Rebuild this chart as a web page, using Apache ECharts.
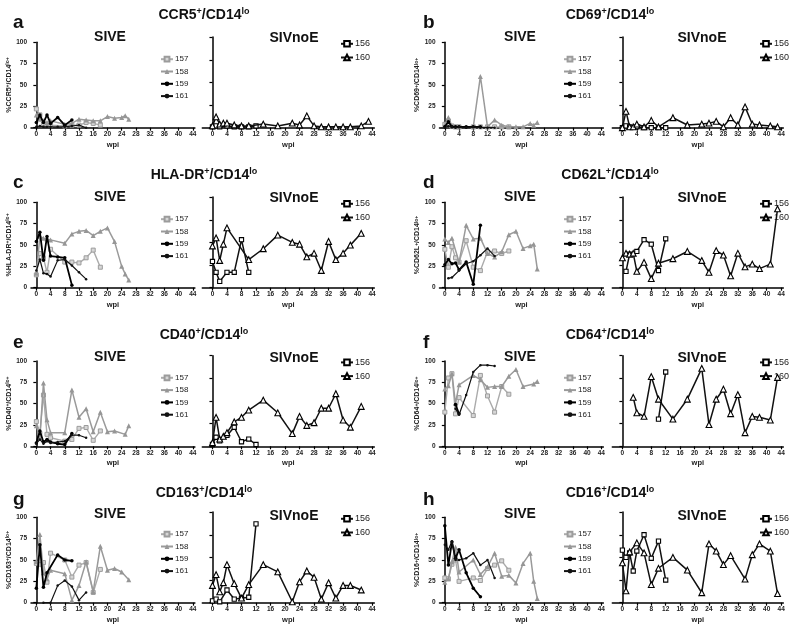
<!DOCTYPE html>
<html><head><meta charset="utf-8">
<script src="https://cdn.jsdelivr.net/npm/echarts@6/dist/echarts.min.js"></script>
<style>html,body{margin:0;padding:0;background:#fff}#c{width:800px;height:633px}</style>
</head><body><div id="c"></div>
<script>
const _ = null;
// weeks post infection
const SIVE_WEEKS = [0,1,2,3,4,6,8,10,12,14,16,18,20,22,24,25,26];
const NOE_WEEKS  = [0,1,2,3,4,6,8,10,12,14,18,22,24,26,28,30,32,34,36,38,41,43];
const X_TICKS = [0,4,8,12,16,20,24,28,32,36,40,44];
const Y_TICKS = [0,25,50,75,100];
const MARKERS = ['CCR5','CD69','HLA-DR','CD62L','CD40','CD64','CD163','CD16'];
const LETTERS = ['a','b','c','d','e','f','g','h'];
const SIVE_ANIMALS = ['157','158','159','161'];
const NOE_ANIMALS = ['156','160'];

// a: CCR5
const a157 = [22,15,5,4,3,_,2,3,3,6,5,3,_,_,_,_,_];
const a158 = [15,10,8,6,8,_,4,5,10,9,8,8,13,11,12,14,10];
const a159 = [6,15,6,15,5,12,3,9,_,_,_,_,_,_,_,_,_];
const a161 = [1,2,1,1,1,1,1,2,3,0,_,_,_,_,_,_,_];
const a156 = [1,2,1,_,2,1,1,1,2,_,_,_,_,_,_,_,_,_,_,_,_,_];
const a160 = [2,12,4,5,5,3,2,2,_,4,2,5,3,13,2,1,1,1,1,1,2,7];
// b: CD69
const b157 = [4,8,2,1,1,_,1,1,1,1,1,1,_,_,_,_,_];
const b158 = [3,12,2,1,1,_,1,60,1,9,3,1,1,1,5,3,6];
const b159 = [1,7,1,1,1,1,1,1,_,_,_,_,_,_,_,_,_];
const b161 = [0,2,1,0,1,0,1,0,0,0,_,_,_,_,_,_,_];
const b156 = [0,2,1,_,1,0,0,0,0,_,_,_,_,_,_,_,_,_,_,_,_,_];
const b160 = [0,18,1,1,4,1,8,1,_,11,3,4,5,7,1,11,3,23,4,3,2,1];
// c: HLA-DR
const c157 = [15,40,35,18,45,_,30,30,29,35,44,24,_,_,_,_,_];
const c158 = [17,60,58,57,56,_,52,63,66,67,61,66,70,54,25,16,9];
const c159 = [54,65,32,60,37,36,35,3,_,_,_,_,_,_,_,_,_];
const c161 = [20,33,17,16,13,32,33,26,18,10,_,_,_,_,_,_,_];
const c156 = [29,17,7,_,17,17,53,17,_,_,_,_,_,_,_,_,_,_,_,_,_,_];
const c160 = [46,55,30,48,66,_,_,31,_,43,58,50,48,34,38,19,51,31,38,47,60,_];
// d: CD62L
const d157 = [45,24,48,35,30,55,24,20,42,43,40,43,_,_,_,_,_];
const d158 = [57,53,58,_,30,73,57,58,40,36,42,62,66,46,49,51,22];
const d159 = [27,33,28,29,21,30,4,73,_,_,_,_,_,_,_,_,_];
const d161 = [_,11,12,_,20,28,31,38,46,37,_,_,_,_,_,_,_];
const d156 = [_,18,37,_,40,53,48,19,54,_,_,_,_,_,_,_,_,_,_,_,_,_];
const d160 = [33,38,37,38,18,28,10,27,_,32,40,30,17,41,36,13,38,23,26,21,26,87];
// e: CD40
const e157 = [29,15,60,14,10,_,6,8,21,22,7,18,_,_,_,_,_];
const e158 = [24,10,74,31,16,_,16,66,34,44,17,40,17,18,_,14,24];
const e159 = [4,18,5,8,5,3,2,15,_,_,_,_,_,_,_,_,_];
const e161 = [3,8,3,6,4,5,6,13,13,10,_,_,_,_,_,_,_];
const e156 = [2,10,6,_,12,21,5,8,2,_,_,_,_,_,_,_,_,_,_,_,_,_];
const e160 = [4,32,8,11,15,27,32,40,_,51,37,14,33,23,26,42,42,58,29,21,44,_];
// f: CD64
const f157 = [40,80,85,38,57,_,36,83,59,40,70,61,_,_,_,_,_];
const f158 = [67,71,85,50,72,_,83,78,69,70,70,82,90,70,_,73,76];
const f159 = [_,_,_,49,38,_,_,_,_,_,_,_,_,_,_,_,_];
const f161 = [_,_,_,44,37,60,87,95,95,94,_,_,_,_,_,_,_];
const f156 = [_,_,_,_,_,_,_,30,82,_,_,_,_,_,_,_,_,_,_,_,_,_];
const f160 = [_,_,_,54,37,33,77,52,_,30,52,86,24,52,63,36,57,15,33,32,29,76];
// g: CD163
const g157 = [46,45,47,24,58,_,50,30,44,47,12,39,_,_,_,_,_];
const g158 = [48,80,35,28,38,_,34,3,20,48,13,66,38,40,36,_,27];
const g159 = [17,68,18,35,_,56,50,49,_,_,_,_,_,_,_,_,_];
const g161 = [_,_,0,_,0,20,26,19,3,12,_,_,_,_,_,_,_];
const g156 = [2,4,1,_,14,4,5,6,87,_,_,_,_,_,_,_,_,_,_,_,_,_];
const g160 = [19,31,12,22,42,21,5,20,_,42,34,1,23,35,28,4,22,5,19,19,14,_];
// h: CD16
const h157 = [29,28,45,50,25,_,29,26,40,44,49,38,_,_,_,_,_];
const h158 = [24,28,48,65,36,_,50,33,42,58,31,32,23,46,58,25,5];
const h159 = [90,44,71,52,62,35,17,7,_,_,_,_,_,_,_,_,_];
const h161 = [68,62,72,50,50,52,58,44,50,29,_,_,_,_,_,_,_];
const h156 = [58,50,55,35,57,75,49,68,25,_,_,_,_,_,_,_,_,_,_,_,_,_];
const h160 = [44,13,56,_,66,55,20,38,_,50,36,11,65,57,42,52,_,26,53,65,57,10];

const SIVE_DATA = [[a157,a158,a159,a161],[b157,b158,b159,b161],[c157,c158,c159,c161],[d157,d158,d159,d161],
                   [e157,e158,e159,e161],[f157,f158,f159,f161],[g157,g158,g159,g161],[h157,h158,h159,h161]];
const NOE_DATA = [[a156,a160],[b156,b160],[c156,c160],[d156,d160],[e156,e160],[f156,f160],[g156,g160],[h156,h160]];

// ---- layout / style ----
const FONT = '"Liberation Sans", Arial, sans-serif';
const ROW_Y0 = [127.7, 287.7, 446.3, 602.7];
const TITLE_Y = [15, 175, 335, 492.7];
const L_LEFT = [31, 439.5], L_W = 163.9, L_H = 85.4;
const R_LEFT = [202.3, 612.3], R_W = [172, 171], R_H = 90.6;
const STYLE = {
  '157': {symbol:'rect', symbolSize:4, item:{color:'#d6d6d6', borderColor:'#9c9c9c', borderWidth:1}, line:{color:'#ababab', width:1.4}},
  '158': {symbol:'triangle', symbolSize:5, item:{color:'#969696'}, line:{color:'#9a9a9a', width:1.5}},
  '159': {symbol:'circle', symbolSize:3.5, item:{color:'#000'}, line:{color:'#000', width:1.8}},
  '161': {symbol:'circle', symbolSize:2.5, item:{color:'#111'}, line:{color:'#111', width:1.2}},
  '156': {symbol:'rect', symbolSize:4.2, item:{color:'#fff', borderColor:'#000', borderWidth:1.1}, line:{color:'#111', width:1.5}},
  '160': {symbol:'triangle', symbolSize:5.8, item:{color:'#fff', borderColor:'#000', borderWidth:1.1}, line:{color:'#111', width:1.5}}
};

function pairs(weeks, vals){
  const out = [];
  weeks.forEach((w,i)=>{ if (vals[i] !== null && vals[i] !== undefined) out.push([w, vals[i]]); });
  return out;
}

const grid=[], xAxis=[], yAxis=[], series=[], legend=[], graphic=[];
const axisLineStyle = {color:'#000', width:1.5};
const tickLbl = {fontSize:6.5, fontWeight:'bold', color:'#222', fontFamily:FONT};

MARKERS.forEach((mk, p)=>{
  const c = p % 2, r = Math.floor(p/2);
  const y0 = ROW_Y0[r];
  const gl = grid.length;
  grid.push({left:L_LEFT[c], top:y0-L_H, width:L_W, height:L_H, containLabel:false});
  grid.push({left:R_LEFT[c], top:y0-R_H, width:R_W[c], height:R_H, containLabel:false});
  [0,1].forEach(k=>{
    const gi = gl+k;
    xAxis.push({type:'value', gridIndex:gi, min: k===0?-1.5:-2.8, max:44.6,
      axisLine:{show:true, onZero:false, lineStyle:axisLineStyle},
      axisTick:{show:true, customValues:X_TICKS, length:3, lineStyle:{color:'#000', width:1.2}},
      axisLabel:Object.assign({customValues:X_TICKS, margin:3}, tickLbl),
      splitLine:{show:false},
      name:'wpi', nameLocation:'middle', nameGap:13,
      nameTextStyle:{fontSize:7.5, fontWeight:'bold', color:'#222', fontFamily:FONT}});
    const ya = {type:'value', gridIndex:gi, min:0, max:100, interval:25,
      axisLine:{show:true, lineStyle:axisLineStyle},
      axisTick:{show:true, length:3, lineStyle:{color:'#000', width:1.2}},
      axisLabel:Object.assign({show:k===0, margin:4}, tickLbl),
      splitLine:{show:false}};
    if (k===0) {
      ya.name = '{m|%' + mk + '}{s|+}{m|/CD14}{s|lo+}';
      ya.nameLocation = 'middle'; ya.nameGap = 15; ya.nameRotate = 90;
      ya.nameTextStyle = {fontFamily:FONT, rich:{
        m:{fontSize:7, fontWeight:'bold', color:'#222', fontFamily:FONT},
        s:{fontSize:5, fontWeight:'bold', color:'#222', fontFamily:FONT, verticalAlign:'top'}}};
    }
    yAxis.push(ya);
  });
  SIVE_ANIMALS.forEach((an, i)=>{
    const st = STYLE[an];
    series.push({type:'line', name:an, xAxisIndex:gl, yAxisIndex:gl, data:pairs(SIVE_WEEKS, SIVE_DATA[p][i]),
      symbol:st.symbol, symbolSize:st.symbolSize, itemStyle:st.item, lineStyle:st.line, connectNulls:true, animation:false, z:2+i});
  });
  NOE_ANIMALS.forEach((an, i)=>{
    const st = STYLE[an];
    series.push({type:'line', name:an, xAxisIndex:gl+1, yAxisIndex:gl+1, data:pairs(NOE_WEEKS, NOE_DATA[p][i]),
      symbol:st.symbol, symbolSize:st.symbolSize, itemStyle:st.item, lineStyle:st.line, connectNulls:true, animation:false, z:3+i});
  });
  legend.push({data:SIVE_ANIMALS, orient:'vertical', left:[160,563][c], top:y0-72.5, itemWidth:12, itemHeight:6, itemGap:4.3,
    selectedMode:false, padding:0, textStyle:{fontSize:8, color:'#222', fontFamily:FONT, padding:[0,0,0,-3]}});
  legend.push({data:NOE_ANIMALS, orient:'vertical', left:[340,759][c], top:y0-88.4, itemWidth:12, itemHeight:7, itemGap:4.7,
    selectedMode:false, padding:0, textStyle:{fontSize:9, color:'#222', fontFamily:FONT, padding:[0,0,0,-3]}});
  const ty = TITLE_Y[r];
  graphic.push({type:'text', x:[204,610][c], y:ty, style:{text:'{m|'+mk+'}{s|+}{m|/CD14}{s|lo}', textAlign:'center', textVerticalAlign:'middle',
    rich:{m:{fontSize:14, fontWeight:'bold', fill:'#111', fontFamily:FONT, lineHeight:16},
          s:{fontSize:9, fontWeight:'bold', fill:'#111', fontFamily:FONT, verticalAlign:'top'}}}});
  graphic.push({type:'text', x:[13,423][c], y:ty+7.5, style:{text:LETTERS[p], font:'bold 19px '+FONT, fill:'#111', textAlign:'left', textVerticalAlign:'middle'}});
  graphic.push({type:'text', x:[110,520][c], y:ty+21.7, style:{text:'SIVE', font:'bold 14px '+FONT, fill:'#111', textAlign:'center', textVerticalAlign:'middle'}});
  graphic.push({type:'text', x:[294,702][c], y:ty+23, style:{text:'SIVnoE', font:'bold 14px '+FONT, fill:'#111', textAlign:'center', textVerticalAlign:'middle'}});
});

const chart = echarts.init(document.getElementById('c'), null, {renderer:'canvas'});
chart.setOption({animation:false, backgroundColor:'#fff', grid, xAxis, yAxis, series, legend, graphic});
</script></body></html>
